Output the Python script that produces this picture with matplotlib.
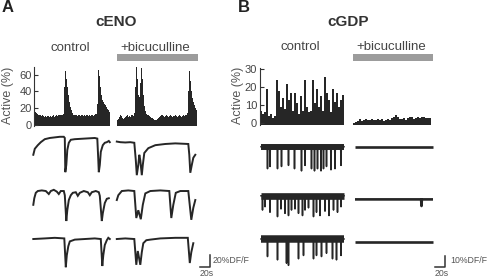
import matplotlib
matplotlib.use('Agg')
import matplotlib.pyplot as plt
from matplotlib.patches import Rectangle
import numpy as np

plt.rcParams['font.family'] = ['Liberation Sans', 'DejaVu Sans']

# ---------------- data ----------------
# Population activity histograms (% active cells per time bin)
a_ctrl_hist = [16, 15, 14, 13, 12, 12,
               11, 10, 11, 10, 9, 10, 9, 10, 10, 9,
               10, 9, 10, 11, 9, 10, 11, 10, 12, 11,
               11, 12, 11, 13,
               45, 64, 55, 45, 35, 27, 21, 17, 14, 12, 11,
               11, 12, 10, 11, 12, 10, 11, 12, 10, 11,
               10, 11, 12, 10, 11, 10, 12, 11, 10, 12,
               13, 13, 25,
               66, 58, 45, 36, 30, 27, 25, 23, 21, 19, 17, 15]
a_bic_hist = [6, 7, 9, 11, 10, 8, 7, 8, 9, 10,
              11, 9, 10, 9, 12, 11, 10, 14,
              45, 70, 55, 35, 33, 50, 68, 55, 35, 22, 16, 13,
              12, 11, 10, 9, 8, 8, 7, 6, 5, 6,
              7, 8, 9, 10, 11, 12, 10, 9, 10, 11,
              10, 9, 10, 11, 10, 9, 10, 10, 11, 10,
              9, 10, 11, 10, 9, 10, 11, 10, 11, 12,
              14, 40, 65, 52, 40, 32, 27, 23, 20, 18]
b_ctrl_hist = [7, 5, 6, 19, 4, 5, 3, 4, 24, 18, 9, 14, 8, 22, 13, 17, 7, 17, 11, 5,
               15, 7, 24, 9, 6, 7, 24, 11, 19, 9, 15, 7, 25.5, 17, 13, 6, 19, 12, 17, 9,
               13, 15.7]
b_bic_hist = [0.3, 0.8, 1.5, 2.2, 1.5, 2.0, 2.4, 1.8, 2.0, 2.6, 1.6, 1.9, 2.5, 1.8,
              2.2, 1.5, 2.0, 2.3, 1.7, 2.8, 3.5, 4.4, 3.6, 2.5, 2.2, 2.8, 2.0, 3.0,
              3.6, 3.4, 2.6, 3.2, 3.5, 3.0, 3.6, 3.4, 2.8, 3.2, 3.0]
a_hist_ticks = [0, 20, 40, 60]
b_hist_ticks = [0, 10, 20, 30]

# cENO example traces: time (s) and dF/F (%) relative to each cell's baseline
a1c_t = [0, 3, 9, 15, 23, 33, 43, 53, 61, 63, 64, 66, 68, 71, 75, 83, 103, 123, 128, 130,
         131, 133, 135, 139, 143, 147, 151, 153]
a1c_v = [-28, -18, -12, -7, -2, 0, 1, 2, 2, 0, -57, -45, -20, -8, -3, -2, -1, 0, -1, -37,
         -57, -45, -23, -12, -8, -7, -5, -7]
a1b_t = [0, 7, 17, 27, 35, 38, 40, 43, 45, 47, 50, 52, 55, 63, 77, 97, 117, 143, 145, 147,
         150, 153, 157]
a1b_v = [-6, -7, -7.5, -7, -8, -37, -62, -45, -28, -37, -62, -45, -25, -17, -12, -10, -9,
         -10, -28, -58, -45, -33, -28]
a2c_t = [0, 2, 5, 9, 17, 25, 31, 35, 41, 47, 51, 55, 61, 63, 66, 68, 71, 75, 79, 85, 89, 93,
         101, 109, 113, 117, 125, 131, 133, 137, 139, 143, 147, 151]
a2c_v = [-23, -12, -3, 0, 1, 0, -5, 0, 2, -1, -5, 0, 0, -7, -50, -32, -15, -7, -3, -2, -8,
         -3, 0, -2, -7, -2, 0, -2, -8, -50, -37, -20, -13, -12]
a2b_t = [0, 3, 10, 23, 35, 39, 43, 48, 52, 57, 67, 87, 105, 109, 113, 118, 127, 143, 149,
         153, 157]
a2b_v = [-15, -7, 0, 1, 0, -45, -32, -47, -23, -4, 0, 1, 0, -45, -23, -3, 0, 0, -48, -28, -15]
a3c_t = [0, 23, 43, 62, 65, 67, 70, 73, 83, 103, 123, 135, 138, 140, 143, 147, 150, 153]
a3c_v = [0, 1, 2, 1, -47, -27, -12, -4, -1, 0, 1, 0, -45, -27, -10, -2, 2, 0]
a3b_t = [0, 17, 35, 39, 42, 47, 50, 53, 59, 67, 87, 117, 142, 146, 149, 153]
a3b_v = [0, 1, 0, -43, -20, -43, -22, -7, -2, -1, 1, 2, 2, -40, -22, -7]

# cGDP example traces: spike times (s) and spike amplitudes (% dF/F)
b_ctrl_dur = 166
b_bic_dur = 156
b1_spk_t = [13, 18, 33, 41, 55, 67, 81, 88, 101, 107, 113, 120, 125, 131, 140, 148, 160]
b1_spk_v = [-20, -18, -20, -18, -17, -20, -22, -17, -20, -22, -20, -22, -20, -18, -21, -20, -17]
b2_spk_t = [3, 8, 18, 33, 40, 48, 55, 61, 68, 75, 83, 88, 95, 105, 111, 118, 128, 136, 145,
            153, 160]
b2_spk_v = [-13, -10, -15, -19, -12, -16, -18, -13, -12, -16, -18, -13, -11, -19, -15, -18,
            -14, -18, -13, -15, -10]
b3_spk_t = [13, 33, 51, 55, 75, 85, 105, 111, 121, 131, 143, 151, 160]
b3_spk_v = [-16, -19, -22, -24, -18, -15, -18, -15, -16, -13, -18, -19, -15]
b_bic_level = [-0.5, -3.3, -3.0]
b2_bic_spk_t = [133]
b2_bic_spk_v = [-6]

# ---------------- layout ----------------
W, H = 487, 280
fig = plt.figure(figsize=(W / 100, H / 100), dpi=100)
DARK = '#262626'
TXT = '#444444'


def ax_px(x0, y0, x1, y1):
    return fig.add_axes([x0 / W, 1 - y1 / H, (x1 - x0) / W, (y1 - y0) / H])


def ftext(x, y, s, **kw):
    kw.setdefault('ha', 'center')
    kw.setdefault('va', 'center')
    fig.text(x / W, 1 - y / H, s, **kw)


def hist(ax, vals, ylim, ticks=None):
    x = np.arange(len(vals) + 1)
    y = list(vals) + [vals[-1]]
    ax.fill_between(x, y, ylim[0], step='post', color=DARK, lw=0)
    ax.set_xlim(0, len(vals))
    ax.set_ylim(*ylim)
    ax.set_xticks([])
    for s in ['top', 'right', 'bottom']:
        ax.spines[s].set_visible(False)
    ax.patch.set_alpha(0)
    if ticks is None:
        ax.spines['left'].set_visible(False)
        ax.set_yticks([])
    else:
        ax.spines['left'].set_color('#333333')
        ax.spines['left'].set_linewidth(0.8)
        ax.set_yticks(ticks)
        ax.tick_params(axis='y', direction='in', length=3, width=0.8,
                       labelsize=8, pad=2, colors='#333333', labelcolor=TXT)


# histograms
hist(ax_px(34.3, 67, 110.3, 126), a_ctrl_hist, (-1.8, 69.3), a_hist_ticks)
hist(ax_px(117.3, 67, 197.3, 126), a_bic_hist, (-1.8, 69.3))
hist(ax_px(260, 68, 344, 124.5), b_ctrl_hist, (-0.67, 30.7), b_hist_ticks)
hist(ax_px(353, 68, 431, 124.5), b_bic_hist, (-0.67, 30.7))

# labels
ftext(2, 8, 'A', fontsize=12, fontweight='bold', ha='left', color='#222222')
ftext(238, 8, 'B', fontsize=12, fontweight='bold', ha='left', color='#222222')
ftext(116, 22.5, 'cENO', fontsize=11, fontweight='bold', color='#333333')
ftext(348, 22.5, 'cGDP', fontsize=11, fontweight='bold', color='#333333')
ftext(70, 47.5, 'control', fontsize=9.5, color=TXT)
ftext(155, 47.5, '+bicuculline', fontsize=9.5, color=TXT)
ftext(300, 46.7, 'control', fontsize=9.5, color=TXT)
ftext(391, 46.7, '+bicuculline', fontsize=9.5, color=TXT)
ftext(8, 95, 'Active (%)', fontsize=9, rotation=90, color='#555555')
ftext(238, 95, 'Active (%)', fontsize=9, rotation=90, color='#555555')
for x0, x1 in [(117.3, 197.7), (352.7, 433.3)]:
    fig.add_artist(Rectangle((x0 / W, 1 - 61 / H), (x1 - x0) / W, 7 / H,
                             transform=fig.transFigure, color='#9c9c9c', lw=0))

# ---- cENO traces ----
axA = ax_px(33.3, 130, 233.3, 280)
axA.set_xlim(0, 400)
axA.set_ylim(0, 250)
axA.axis('off')
rowA = [236.7, 148.3, 68.3]
bicA = 167
for (ct, cv, bt, bv), off in zip([(a1c_t, a1c_v, a1b_t, a1b_v),
                                  (a2c_t, a2c_v, a2b_t, a2b_v),
                                  (a3c_t, a3c_v, a3b_t, a3b_v)], rowA):
    axA.plot(np.array(ct), np.array(cv) + off, color=DARK, lw=1.4,
             solid_joinstyle='miter', clip_on=False)
    axA.plot(np.array(bt) + bicA, np.array(bv) + off, color=DARK, lw=1.4,
             solid_joinstyle='miter', clip_on=False)
axA.plot([333.4, 353.4, 353.4], [21.7, 21.7, 41.7], color='#333333', lw=1.1, clip_on=False)
axA.text(359.4, 31.7, '20%DF/F', fontsize=6.3, color='#555555', ha='left', va='center')
axA.text(333.4, 10.0, '20s', fontsize=6.3, color='#555555', ha='left', va='center')

# ---- cGDP traces ----
axB = ax_px(261, 130, 461, 280)
axB.set_xlim(0, 400)
axB.set_ylim(0, 136.4)
axB.axis('off')
rowB = [121.2, 76.6, 37.3]
bicB = 188
bandB = [4.3, 4.8, 5.4]


def spike_line(spk_t, spk_v, dur, level=0.0, half=0.7):
    xs, ys = [0], [level]
    for t, v in zip(spk_t, spk_v):
        xs += [t - half, t, t + half]
        ys += [level, level + v, level]
    xs.append(dur)
    ys.append(level)
    return np.array(xs), np.array(ys)


for i, (st, sv) in enumerate([(b1_spk_t, b1_spk_v), (b2_spk_t, b2_spk_v), (b3_spk_t, b3_spk_v)]):
    off = rowB[i]
    axB.plot([0, b_ctrl_dur], [off, off], color=DARK, lw=bandB[i], solid_capstyle='butt')
    x, y = spike_line(st, sv, b_ctrl_dur)
    axB.plot(x, y + off, color=DARK, lw=1.1, clip_on=False)
    lvl = b_bic_level[i]
    if i == 1:
        x, y = spike_line(b2_bic_spk_t, b2_bic_spk_v, b_bic_dur, lvl)
    else:
        x, y = spike_line([], [], b_bic_dur, lvl)
    axB.plot(x + bicB, y + off, color=DARK, lw=1.9, solid_capstyle='butt', clip_on=False)

axB.plot([348, 368, 368], [11.8, 11.8, 21.8], color='#333333', lw=1.1, clip_on=False)
axB.text(378, 17.3, '10%DF/F', fontsize=6.3, color='#555555', ha='left', va='center')
axB.text(348, 5.5, '20s', fontsize=6.3, color='#555555', ha='left', va='center')

fig.savefig('out.png', dpi=100)
